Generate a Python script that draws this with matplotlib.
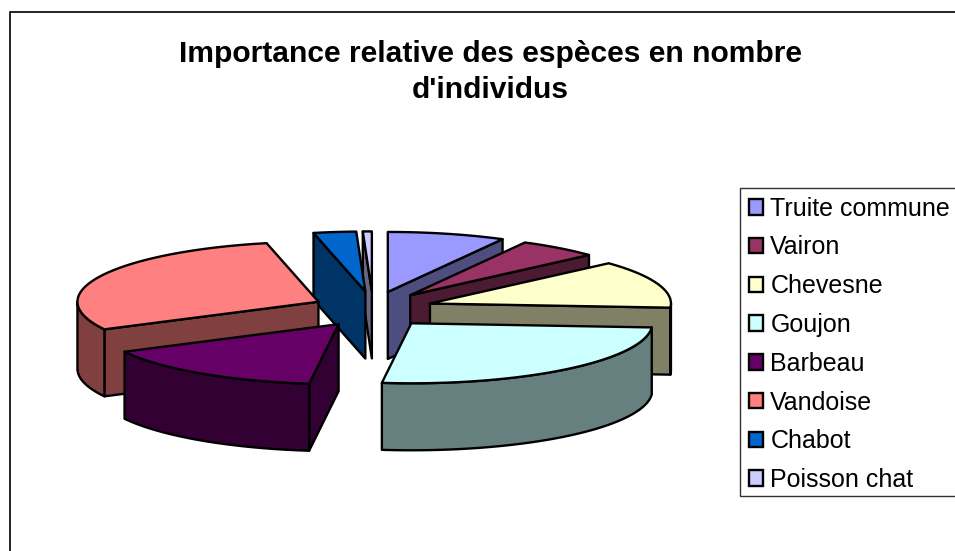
import numpy as np
import matplotlib
matplotlib.use("Agg")
import matplotlib.pyplot as plt
from matplotlib.patches import Patch, Rectangle

title_lines = ["Importance relative des espèces en nombre", "d'individus"]
species = ["Truite commune", "Vairon", "Chevesne", "Goujon", "Barbeau", "Vandoise", "Chabot", "Poisson chat"]
shares = [7.9, 5.4, 12.8, 25.85, 15.45, 29.15, 2.85, 0.6]
top_colors = ["#9999FF", "#993366", "#FFFFCC", "#CCFFFF", "#660066", "#FF8080", "#0066CC", "#CCCCFF"]
side_colors = ["#4D4D80", "#4D1A33", "#808066", "#668080", "#330033", "#804040", "#003366", "#666680"]

CX, CY, RX, RY, DEPTH = 373.0, 309.4, 241.0, 60.0, 67.0
EXPLODE_X, EXPLODE_Y = 0.25, 0.30
EDGE = dict(edgecolor="black", linewidth=1.7, joinstyle="round")

fig = plt.figure(figsize=(9.55, 5.51), dpi=100)
ax = fig.add_axes([0, 0, 1, 1])
ax.set_xlim(0, 955)
ax.set_ylim(551, 0)
ax.axis("off")
plt.rcParams["font.family"] = ["Liberation Sans", "DejaVu Sans"]

ax.add_patch(Rectangle((9.5, 11.5), 960, 560, facecolor="white", edgecolor="black", linewidth=1.2))

fractions = np.array(shares) / np.sum(shares)
stops = np.concatenate([[0], np.cumsum(fractions)]) * 2 * np.pi


def rim(t, apex):
    return apex[0] + RX * np.sin(t), apex[1] - RY * np.cos(t)


slices = []
for i in range(len(species)):
    a, b = stops[i], stops[i + 1]
    mid = (a + b) / 2
    apex = (CX + EXPLODE_X * RX * np.sin(mid), CY - EXPLODE_Y * RY * np.cos(mid))
    slices.append((apex[1], i, a, b, apex))

for _, i, a, b, apex in sorted(slices, key=lambda s: s[0]):
    side = side_colors[i]
    # radial walls that face the viewer
    for t, visible in ((a, np.sin(a) < -1e-9), (b, np.sin(b) > 1e-9)):
        if visible:
            x, y = rim(t, apex)
            ax.fill([apex[0], x, x, apex[0]], [apex[1], y, y + DEPTH, apex[1] + DEPTH],
                    facecolor=side, **EDGE)
    # outer wall on the near half of the ellipse
    lo, hi = max(a, np.pi / 2), min(b, 3 * np.pi / 2)
    if hi > lo:
        t = np.linspace(lo, hi, 100)
        x, y = rim(t, apex)
        ax.fill(np.r_[x, x[::-1]], np.r_[y, y[::-1] + DEPTH], facecolor=side, **EDGE)
    # top surface
    t = np.linspace(a, b, 160)
    x, y = rim(t, apex)
    ax.fill(np.r_[apex[0], x], np.r_[apex[1], y], facecolor=top_colors[i], **EDGE)

for line, y in zip(title_lines, (54, 90)):
    ax.text(490, y, line, ha="center", va="center", fontsize=21.6, fontweight="bold")

ax.add_patch(Rectangle((740, 188), 300, 308, facecolor="white", edgecolor="#333333", linewidth=1.0))
handles = [Patch(facecolor=c, edgecolor="black", linewidth=1.7) for c in top_colors]
ax.legend(handles, species, loc="upper left", bbox_to_anchor=(740, 188),
          bbox_transform=ax.transData, fontsize=18.0, frameon=False,
          handlelength=0.58, handleheight=0.58,
          handletextpad=0.28, labelspacing=0.59, borderpad=0.35, borderaxespad=0)

fig.savefig("out.png", dpi=100)
